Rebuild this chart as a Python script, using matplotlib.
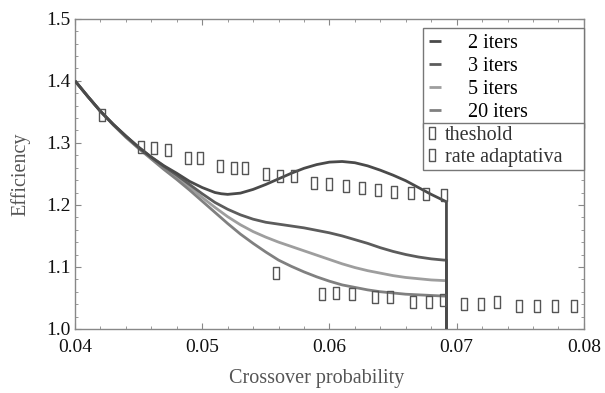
import matplotlib
matplotlib.use("Agg")
import matplotlib.pyplot as plt
from matplotlib.ticker import MultipleLocator, FormatStrFormatter

plt.rcParams['font.family'] = ['Liberation Serif', 'DejaVu Serif']

# ---- data ----
x_2it = [0.040, 0.041, 0.042, 0.043, 0.044, 0.045, 0.046, 0.047, 0.048, 0.049, 0.050,
         0.051, 0.0515, 0.052, 0.053, 0.054, 0.055, 0.056, 0.057, 0.058, 0.059, 0.060,
         0.061, 0.062, 0.063, 0.064, 0.065, 0.066, 0.067, 0.068, 0.069, 0.0692, 0.0692]
y_2it = [1.400, 1.375, 1.351, 1.330, 1.311, 1.293, 1.277, 1.263, 1.251, 1.238, 1.228,
         1.220, 1.218, 1.217, 1.219, 1.225, 1.233, 1.242, 1.251, 1.259, 1.265, 1.269,
         1.270, 1.268, 1.263, 1.256, 1.248, 1.239, 1.228, 1.217, 1.207, 1.205, 1.000]

x_3it = [0.040, 0.041, 0.042, 0.043, 0.044, 0.045, 0.046, 0.047, 0.048, 0.049, 0.050,
         0.051, 0.052, 0.053, 0.054, 0.055, 0.056, 0.057, 0.058, 0.059, 0.060, 0.061,
         0.062, 0.063, 0.064, 0.065, 0.066, 0.067, 0.068, 0.069, 0.0692, 0.0692]
y_3it = [1.400, 1.375, 1.351, 1.330, 1.311, 1.293, 1.277, 1.262, 1.248, 1.233, 1.218,
         1.204, 1.193, 1.184, 1.177, 1.172, 1.169, 1.166, 1.163, 1.159, 1.155, 1.150,
         1.144, 1.138, 1.131, 1.125, 1.120, 1.116, 1.113, 1.111, 1.111, 1.000]

x_5it = [0.040, 0.041, 0.042, 0.043, 0.044, 0.045, 0.046, 0.047, 0.048, 0.049, 0.050,
         0.051, 0.052, 0.053, 0.054, 0.055, 0.056, 0.057, 0.058, 0.059, 0.060, 0.061,
         0.062, 0.063, 0.064, 0.065, 0.066, 0.067, 0.068, 0.069, 0.0692, 0.0692]
y_5it = [1.400, 1.375, 1.351, 1.330, 1.310, 1.292, 1.276, 1.260, 1.245, 1.229, 1.212,
         1.196, 1.181, 1.168, 1.157, 1.148, 1.140, 1.133, 1.126, 1.119, 1.112, 1.105,
         1.099, 1.094, 1.090, 1.086, 1.083, 1.081, 1.079, 1.078, 1.078, 1.000]

x_20it = [0.040, 0.041, 0.042, 0.043, 0.044, 0.045, 0.046, 0.047, 0.048, 0.049, 0.050,
          0.051, 0.052, 0.053, 0.054, 0.055, 0.056, 0.057, 0.058, 0.059, 0.060, 0.061,
          0.062, 0.063, 0.064, 0.065, 0.066, 0.067, 0.068, 0.069, 0.0692, 0.0692]
y_20it = [1.400, 1.375, 1.351, 1.329, 1.309, 1.291, 1.274, 1.257, 1.241, 1.224, 1.206,
          1.188, 1.170, 1.153, 1.138, 1.124, 1.111, 1.101, 1.092, 1.084, 1.077, 1.071,
          1.067, 1.063, 1.060, 1.058, 1.056, 1.055, 1.054, 1.053, 1.053, 1.000]

x_thr = [0.0421, 0.0452, 0.0462, 0.0473, 0.0489, 0.0498, 0.0514, 0.0525, 0.0534, 0.0550,
         0.0561, 0.0572, 0.0588, 0.0600, 0.0613, 0.0626, 0.0638, 0.0651, 0.0664, 0.0676, 0.0690]
y_thr = [1.345, 1.294, 1.291, 1.288, 1.275, 1.275, 1.262, 1.259, 1.259, 1.250,
         1.246, 1.246, 1.236, 1.234, 1.230, 1.227, 1.224, 1.221, 1.220, 1.217, 1.216]

x_rate = [0.0558, 0.0594, 0.0605, 0.0618, 0.0636, 0.0648, 0.0666, 0.0678, 0.0689,
          0.0706, 0.0719, 0.0732, 0.0749, 0.0763, 0.0777, 0.0792]
y_rate = [1.090, 1.057, 1.058, 1.057, 1.051, 1.051, 1.043, 1.044, 1.047,
          1.040, 1.041, 1.044, 1.037, 1.037, 1.037, 1.037]

line_labels = ["2 iters", "3 iters", "5 iters", "20 iters"]
marker_labels = ["theshold", "rate adaptativa"]
x_ticks = [0.04, 0.05, 0.06, 0.07, 0.08]
y_ticks = [1.0, 1.1, 1.2, 1.3, 1.4, 1.5]

# ---- figure ----
fig = plt.figure(figsize=(6.05, 3.93), dpi=100)
ax = fig.add_axes([0.124, 0.163, 0.841, 0.789])

colors = ['#4a4a4a', '#5c5c5c', '#9e9e9e', '#808080']
series = [(x_2it, y_2it), (x_3it, y_3it), (x_5it, y_5it), (x_20it, y_20it)]
zs = [6, 5, 3, 4]
lines = []
for (xs, ys), c, lab, z in zip(series, colors, line_labels, zs):
    ln, = ax.plot(xs, ys, color=c, lw=2.0, label=lab, zorder=z,
                  solid_capstyle='butt', solid_joinstyle='round')
    lines.append(ln)

rect = [(-0.27, -0.5), (0.27, -0.5), (0.27, 0.5), (-0.27, 0.5), (-0.27, -0.5)]
mk1, = ax.plot(x_thr, y_thr, ls='none', marker=rect, markersize=8.5,
               markerfacecolor='none', markeredgecolor='#555555', markeredgewidth=1.0,
               label=marker_labels[0], zorder=7)
mk2, = ax.plot(x_rate, y_rate, ls='none', marker=rect, markersize=8.5,
               markerfacecolor='none', markeredgecolor='#555555', markeredgewidth=1.0,
               label=marker_labels[1], zorder=7)

ax.set_xlim(0.04, 0.08)
ax.set_ylim(1.0, 1.5)
ax.set_xticks(x_ticks)
ax.set_yticks(y_ticks)
ax.xaxis.set_major_formatter(FormatStrFormatter('%.2f'))
ax.yaxis.set_major_formatter(FormatStrFormatter('%.1f'))
ax.xaxis.set_minor_locator(MultipleLocator(0.002))
ax.yaxis.set_minor_locator(MultipleLocator(0.02))
ax.tick_params(which='both', direction='in', top=True, right=True, color='#888888',
               labelsize=14, labelcolor='#111111')
ax.tick_params(which='major', length=4.5, width=0.8)
ax.tick_params(which='minor', length=2.5, width=0.6)
ax.tick_params(axis='x', which='major', pad=7)
ax.tick_params(axis='y', which='major', pad=3)
for s in ax.spines.values():
    s.set_color('#888888')
    s.set_linewidth(1.0)

ax.set_xlabel("Crossover probability", fontsize=14.5, color='#555555')
ax.set_ylabel("Efficiency", fontsize=14.5, color='#555555')
ax.xaxis.set_label_coords(0.475, -0.13)
ax.yaxis.set_label_coords(-0.088, 0.5)

leg1 = ax.legend(handles=lines, loc='upper left', bbox_to_anchor=(0.6837, 0.3, 0.3163, 0.671),
                 mode='expand', fontsize=14.5, frameon=True, fancybox=False,
                 edgecolor='#777777', framealpha=1, handlelength=0.6, handletextpad=1.35,
                 labelspacing=0.2, borderpad=0.3, borderaxespad=0)
leg1.get_frame().set_linewidth(1.0)
ax.add_artist(leg1)
leg2 = ax.legend(handles=[mk1, mk2], loc='upper left', bbox_to_anchor=(0.6837, 0.0, 0.3163, 0.6645),
                 mode='expand', fontsize=14.5, frameon=True, fancybox=False,
                 edgecolor='#777777', framealpha=1, handlelength=0.6, handletextpad=0.35,
                 labelspacing=0.15, borderpad=0.15, borderaxespad=0)
leg2.get_frame().set_linewidth(1.0)
for t in leg2.get_texts():
    t.set_color('#333333')

fig.savefig("out.png", dpi=100)
